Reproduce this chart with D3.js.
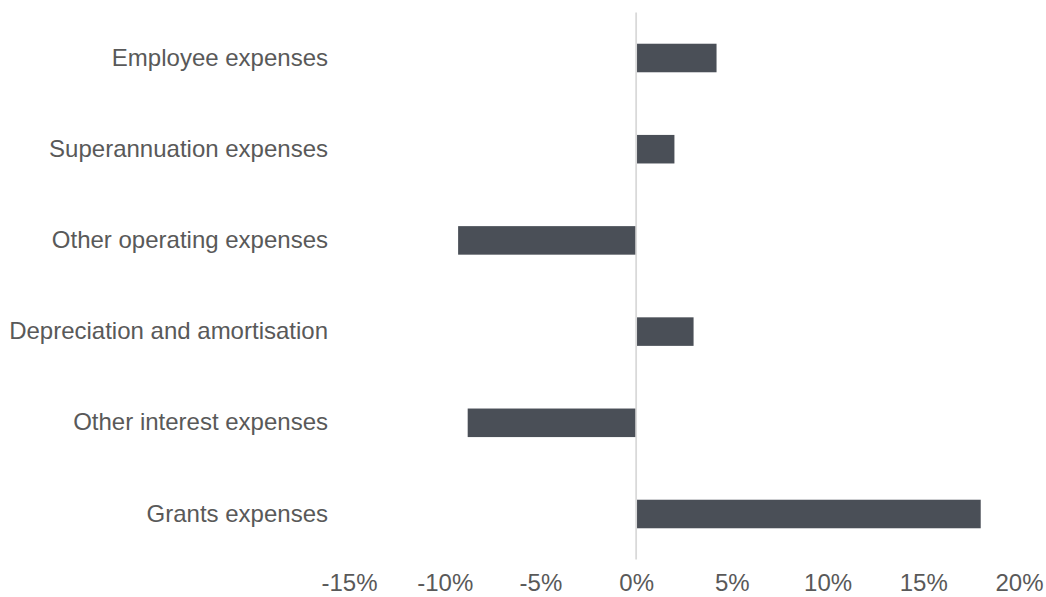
<!DOCTYPE html>
<html>
<head>
<meta charset="utf-8">
<script src="https://cdn.jsdelivr.net/npm/d3@7"></script>
<style>
  html, body { margin: 0; padding: 0; background: #ffffff; }
  svg { display: block; }
</style>
</head>
<body>
<svg id="chart" width="1046" height="597"></svg>
<script>
const categories = [
  "Employee expenses",
  "Superannuation expenses",
  "Other operating expenses",
  "Depreciation and amortisation",
  "Other interest expenses",
  "Grants expenses"
];
const values = [4.2, 2.0, -9.3, 3.0, -8.8, 18.0];
const tickValues = [-15, -10, -5, 0, 5, 10, 15, 20];

const svg = d3.select("#chart");
const margin = { top: 12.4, left: 349, right: 27, bottom: 37.4 };
const W = 1046, H = 597;

const x = d3.scaleLinear().domain([-15, 20]).range([margin.left, W - margin.right]);
const y = d3.scaleBand().domain(categories).range([margin.top, H - margin.bottom])
  .paddingInner(0.687).paddingOuter(0.3435);

const font = "'Liberation Sans', Arial, sans-serif";

svg.append("g").selectAll("rect").data(values).join("rect")
  .attr("x", (d) => x(Math.min(0, d)))
  .attr("width", (d) => Math.abs(x(d) - x(0)))
  .attr("y", (d, i) => y(categories[i]))
  .attr("height", y.bandwidth())
  .attr("fill", "#4a4f57");

svg.append("line")
  .attr("x1", x(0)).attr("x2", x(0))
  .attr("y1", margin.top).attr("y2", H - margin.bottom)
  .attr("stroke", "#d9d9d9").attr("stroke-width", 1.8);

const yAxis = svg.append("g")
  .attr("transform", `translate(${margin.left},0)`)
  .call(d3.axisLeft(y).tickSize(0).tickPadding(21));
yAxis.select(".domain").remove();
yAxis.selectAll("text")
  .attr("fill", "#595959").style("font-family", font).style("font-size", "24px");

const xAxis = svg.append("g")
  .attr("transform", `translate(0,${H - margin.bottom})`)
  .call(d3.axisBottom(x).tickValues(tickValues).tickSize(0).tickPadding(14.5)
    .tickFormat((d) => d + "%"));
xAxis.select(".domain").remove();
xAxis.selectAll("text")
  .attr("fill", "#595959").style("font-family", font).style("font-size", "24px");
</script>
</body>
</html>
